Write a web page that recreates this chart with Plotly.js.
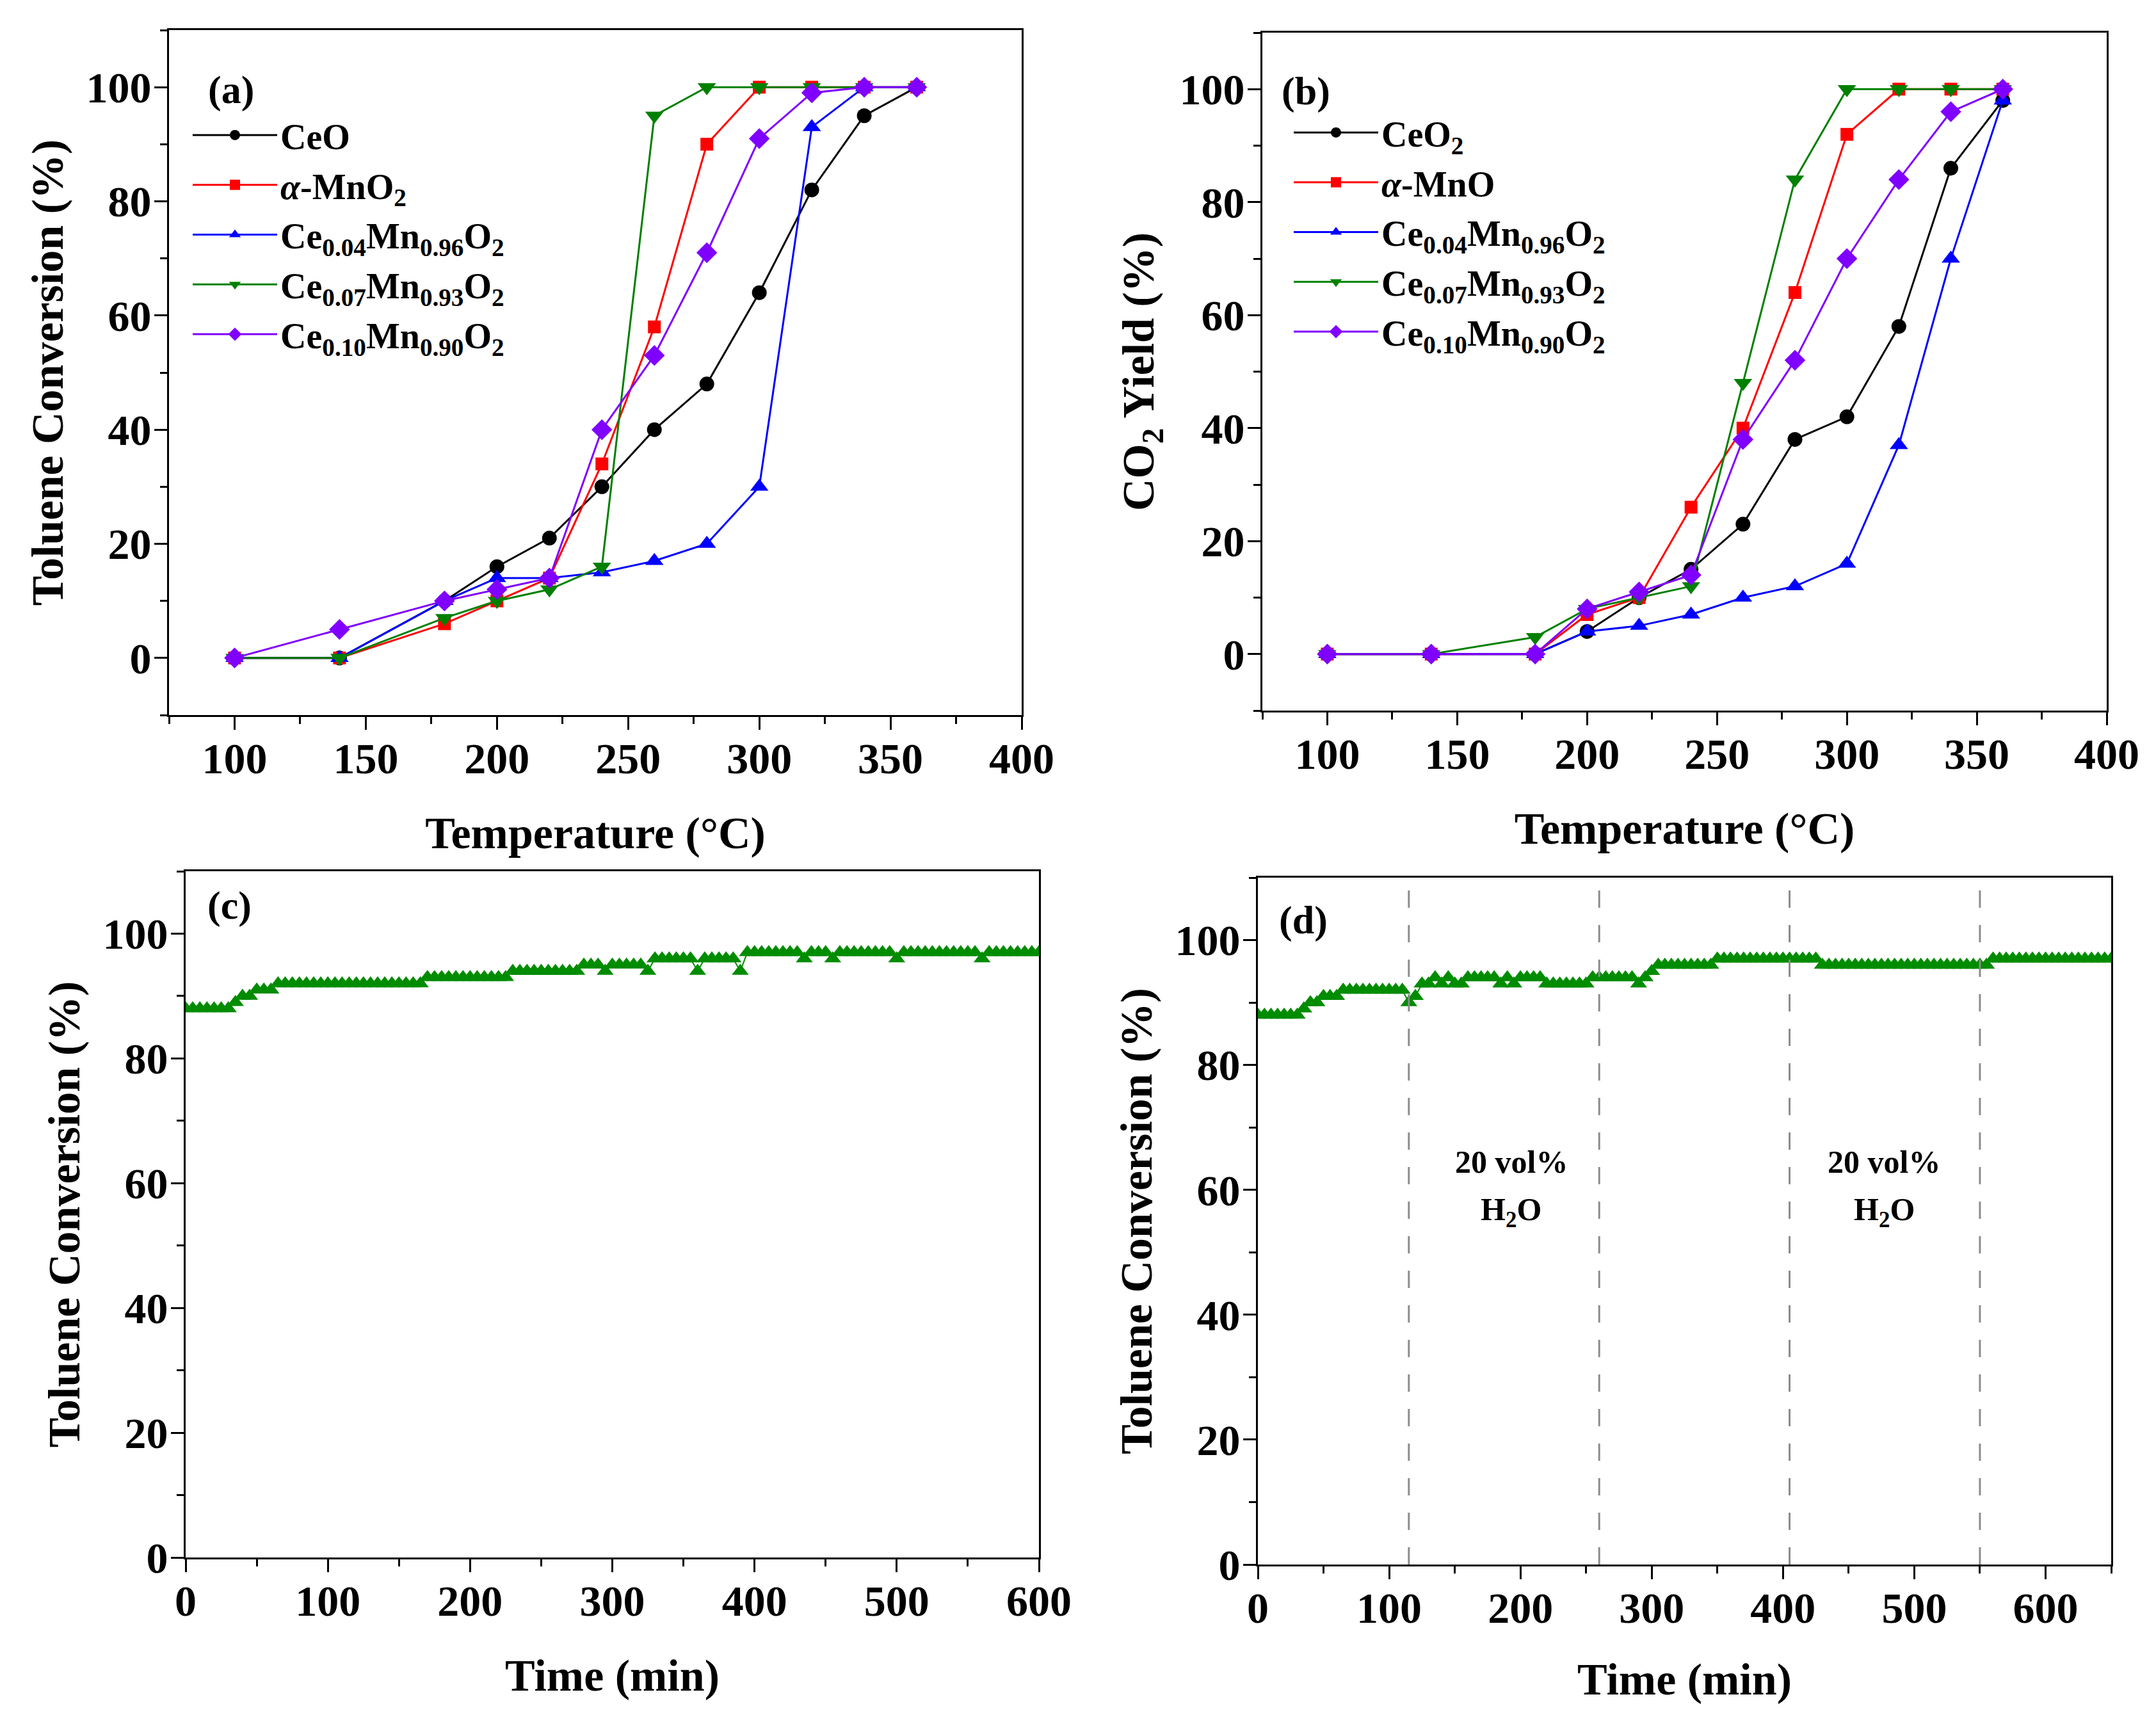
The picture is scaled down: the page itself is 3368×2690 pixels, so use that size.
<!DOCTYPE html>
<html>
<head>
<meta charset="utf-8">
<script src="https://cdn.plot.ly/plotly-3.0.1.min.js"></script>
<style>html,body{margin:0;padding:0;background:#fff;}#chart{width:3368px;height:2690px;}</style>
</head>
<body>
<div id="chart"></div>
<script>
// ---------- Data ----------
const temperature = [100,140,180,200,220,240,260,280,300,320,340,360];

const namesA = ['CeO', '<i>α</i>-MnO<sub>2</sub>', 'Ce<sub>0.04</sub>Mn<sub>0.96</sub>O<sub>2</sub>', 'Ce<sub>0.07</sub>Mn<sub>0.93</sub>O<sub>2</sub>', 'Ce<sub>0.10</sub>Mn<sub>0.90</sub>O<sub>2</sub>'];
const namesB = ['CeO<sub>2</sub>', '<i>α</i>-MnO', 'Ce<sub>0.04</sub>Mn<sub>0.96</sub>O<sub>2</sub>', 'Ce<sub>0.07</sub>Mn<sub>0.93</sub>O<sub>2</sub>', 'Ce<sub>0.10</sub>Mn<sub>0.90</sub>O<sub>2</sub>'];

// (a) Toluene conversion (%)
const convCeO   = [0,0,10,16,21,30,40,48,64,82,95,100];
const convMnO2  = [0,0,6,10,14,34,58,90,100,100,100,100];
const convCe004 = [0,0,10,14,14,15,17,20,30,93,100,100];
const convCe007 = [0,0,7,10,12,16,95,100,100,100,100,100];
const convCe010 = [0,5,10,12,14,40,53,71,91,99,100,100];

// (b) CO2 yield (%)
const yieldCeO2  = [0,0,0,4,10,15,23,38,42,58,86,98];
const yieldMnO   = [0,0,0,7,10,26,40,64,92,100,100,100];
const yieldCe004 = [0,0,0,4,5,7,10,12,16,37,70,98];
const yieldCe007 = [0,0,3,8,10,12,48,84,100,100,100,100];
const yieldCe010 = [0,0,0,8,11,14,38,52,70,84,96,100];

// (c) stability test, time (min) and toluene conversion (%)
const timeC = [0,5,10,15,20,25,30,35,40,45,50,55,60,65,70,75,80,85,90,95,100,105,110,115,120,125,130,135,140,145,150,155,160,165,170,175,180,185,190,195,200,205,210,215,220,225,230,235,240,245,250,255,260,265,270,275,280,285,290,295,300,305,310,315,320,325,330,335,340,345,350,355,360,365,370,375,380,385,390,395,400,405,410,415,420,425,430,435,440,445,450,455,460,465,470,475,480,485,490,495,500,505,510,515,520,525,530,535,540,545,550,555,560,565,570,575,580,585,590,595,600];
const convC = [88,88,88,88,88,88,88,89,90,90,91,91,91,92,92,92,92,92,92,92,92,92,92,92,92,92,92,92,92,92,92,92,92,92,93,93,93,93,93,93,93,93,93,93,93,93,94,94,94,94,94,94,94,94,94,94,95,95,95,94,95,95,95,95,95,94,96,96,96,96,96,96,94,96,96,96,96,96,94,97,97,97,97,97,97,97,97,96,97,97,97,96,97,97,97,97,97,97,97,97,96,97,97,97,97,97,97,97,97,97,97,97,96,97,97,97,97,97,97,97,97];

// (d) water resistance test
const timeD = [0,5,10,15,20,25,30,35,40,45,50,55,60,65,70,75,80,85,90,95,100,105,110,115,120,125,130,135,140,145,150,155,160,165,170,175,180,185,190,195,200,205,210,215,220,225,230,235,240,245,250,255,260,265,270,275,280,285,290,295,300,305,310,315,320,325,330,335,340,345,350,355,360,365,370,375,380,385,390,395,400,405,410,415,420,425,430,435,440,445,450,455,460,465,470,475,480,485,490,495,500,505,510,515,520,525,530,535,540,545,550,555,560,565,570,575,580,585,590,595,600,605,610,615,620,625,630,635,640,645,650];
const convD = [88,88,88,88,88,88,88,89,90,90,91,91,91,92,92,92,92,92,92,92,92,92,92,90,91,93,93,94,93,94,93,93,94,94,94,94,94,93,94,93,94,94,94,94,93,93,93,93,93,93,93,94,94,94,94,94,94,94,93,94,95,96,96,96,96,96,96,96,96,96,97,97,97,97,97,97,97,97,97,97,97,97,97,97,97,97,96,96,96,96,96,96,96,96,96,96,96,96,96,96,96,96,96,96,96,96,96,96,96,96,96,96,97,97,97,97,97,97,97,97,97,97,97,97,97,97,97,97,97,97,97];
const waterSwitchTimes = [115,260,405,550];
const waterLabelTimes = [193,477];

const tempTicks = [100,150,200,250,300,350,400];
const timeTicks = [0,100,200,300,400,500,600];
const pctTicks = [0,20,40,60,80,100];

// ---------- Style ----------
const FONT = 'Liberation Serif, Times New Roman, serif';
const colors = ['#000000','#FF0000','#0000FF','#008000','#8000FF'];
const symbols = ['circle','square','triangle-up','triangle-down','diamond'];
const msizes = [23,20,25,25,25];

function seriesTraces(ys, names, xa, ya, legendName) {
  return ys.map((y, i) => ({
    type: 'scatter', mode: 'lines+markers',
    x: temperature, y: y, name: names[i],
    xaxis: xa, yaxis: ya, legend: legendName, legendgroup: legendName + i,
    line: {color: colors[i], width: 3},
    marker: {color: colors[i], symbol: symbols[i], size: msizes[i], line: {width: 0}},
    showlegend: true
  }));
}

const traces = [
  ...seriesTraces([convCeO, convMnO2, convCe004, convCe007, convCe010], namesA, 'x', 'y', 'legend'),
  ...seriesTraces([yieldCeO2, yieldMnO, yieldCe004, yieldCe007, yieldCe010], namesB, 'x2', 'y2', 'legend2'),
  {type:'scatter', mode:'lines+markers', x: timeC, y: convC, xaxis:'x3', yaxis:'y3', showlegend:false,
   line:{color:'#008C00', width:2}, marker:{color:'#008C00', symbol:'triangle-up', size:23, line:{width:0}}},
  {type:'scatter', mode:'lines+markers', x: timeD, y: convD, xaxis:'x4', yaxis:'y4', showlegend:false,
   line:{color:'#008C00', width:2}, marker:{color:'#008C00', symbol:'triangle-up', size:23, line:{width:0}}}
];

const W = 3368, H = 2690;
function px2x(p){ return p / W; }
function px2y(p){ return 1 - p / H; }

function axisBase(extra) {
  return Object.assign({
    showline: true, linewidth: 3, linecolor: '#000', mirror: true,
    ticks: 'outside', ticklen: 20, tickwidth: 3, tickcolor: '#000',
    showgrid: false, zeroline: false,
    tickfont: {family: FONT, size: 68, color: '#000', weight: 'bold'}
  }, extra);
}

function axTitle(text, standoff){ return {text: text, standoff: standoff, font:{family: FONT, size: 70, color:'#000', weight:'bold'}}; }
function minorTicks(dtick, tick0){ return {ticks:'outside', ticklen:11, tickwidth:3, tickcolor:'#000', dtick:dtick, tick0:tick0, showgrid:false}; }

const legendBase = {
  xanchor: 'left', yanchor: 'top', bgcolor: 'rgba(0,0,0,0)', borderwidth: 0,
  font: {family: FONT, size: 56, color: '#000', weight: 'bold'},
  itemwidth: 132, traceorder: 'grouped', tracegroupgap: 2, itemclick: false
};

const shapes = waterSwitchTimes.map(t => ({
  type: 'line', xref: 'x4', yref: 'y4 domain', x0: t, x1: t, y0: 0, y1: 1,
  line: {color: '#8C8C8C', width: 3, dash: '27px,27px'}
}));

const annFont = {family: FONT, size: 62, color: '#000', weight: 'bold'};
const annotations = [
  {text: '(a)', xref:'paper', yref:'paper', x: px2x(323), y: px2y(104), showarrow:false, font: annFont},
  {text: '(b)', xref:'paper', yref:'paper', x: px2x(2040), y: px2y(106), showarrow:false, font: annFont},
  {text: '(c)', xref:'paper', yref:'paper', x: px2x(322), y: px2y(1414), showarrow:false, font: annFont},
  {text: '(d)', xref:'paper', yref:'paper', x: px2x(2036), y: px2y(1437), showarrow:false, font: annFont}
];
waterLabelTimes.forEach(t => {
  annotations.push({text: '20 vol%', xref:'x4', yref:'y4', x: t, y: 64.5, showarrow:false,
    font: {family: FONT, size: 50, color:'#000', weight:'bold'}});
  annotations.push({text: 'H<sub>2</sub>O', xref:'x4', yref:'y4', x: t, y: 56.5, showarrow:false,
    font: {family: FONT, size: 50, color:'#000', weight:'bold'}});
});

const XSTAND = -14, YSTAND = -9;

const layout = {
  width: W, height: H,
  margin: {l:0, r:0, t:0, b:0, pad:0},
  paper_bgcolor: '#fff', plot_bgcolor: '#fff',
  font: {family: FONT, color: '#000'},
  showlegend: true,
  xaxis: axisBase({domain:[px2x(264), px2x(1596)], anchor:'y', range:[75,400], tickvals: tempTicks,
    ticklabelstandoff: XSTAND, minor: minorTicks(25, 75), title: axTitle('Temperature (°C)', 55)}),
  yaxis: axisBase({domain:[px2y(1117), px2y(47)], anchor:'x', range:[-10,110], tickvals: pctTicks,
    ticklabelstandoff: YSTAND, minor: minorTicks(10, -10), title: axTitle('Toluene Conversion (%)', 13)}),
  xaxis2: axisBase({domain:[px2x(1972), px2x(3291)], anchor:'y2', range:[75,400], tickvals: tempTicks,
    ticklabelstandoff: XSTAND, minor: minorTicks(25, 75), title: axTitle('Temperature (°C)', 55)}),
  yaxis2: axisBase({domain:[px2y(1110), px2y(51)], anchor:'x2', range:[-10,110], tickvals: pctTicks,
    ticklabelstandoff: YSTAND, minor: minorTicks(10, -10), title: axTitle('CO<sub>2</sub> Yield (%)', 17)}),
  xaxis3: axisBase({domain:[px2x(290), px2x(1623)], anchor:'y3', range:[0,600], tickvals: timeTicks,
    ticklabelstandoff: XSTAND, minor: minorTicks(50, 0), title: axTitle('Time (min)', 55)}),
  yaxis3: axisBase({domain:[px2y(2433), px2y(1361)], anchor:'x3', range:[0,110], tickvals: pctTicks,
    ticklabelstandoff: YSTAND, minor: minorTicks(10, 0), title: axTitle('Toluene Conversion (%)', 13)}),
  xaxis4: axisBase({domain:[px2x(1965), px2x(3298)], anchor:'y4', range:[0,650], tickvals: timeTicks,
    ticklabelstandoff: XSTAND, minor: minorTicks(50, 0), title: axTitle('Time (min)', 50)}),
  yaxis4: axisBase({domain:[px2y(2444), px2y(1371)], anchor:'x4', range:[0,110], tickvals: pctTicks,
    ticklabelstandoff: YSTAND, minor: minorTicks(10, 0), title: axTitle('Toluene Conversion (%)', 13)}),
  legend: Object.assign({}, legendBase, {x: px2x(296), y: px2y(168)}),
  legend2: Object.assign({}, legendBase, {x: px2x(2016), y: px2y(164)}),
  shapes: shapes,
  annotations: annotations
};

Plotly.newPlot('chart', traces, layout, {staticPlot: true, displayModeBar: false});
</script>
</body>
</html>
